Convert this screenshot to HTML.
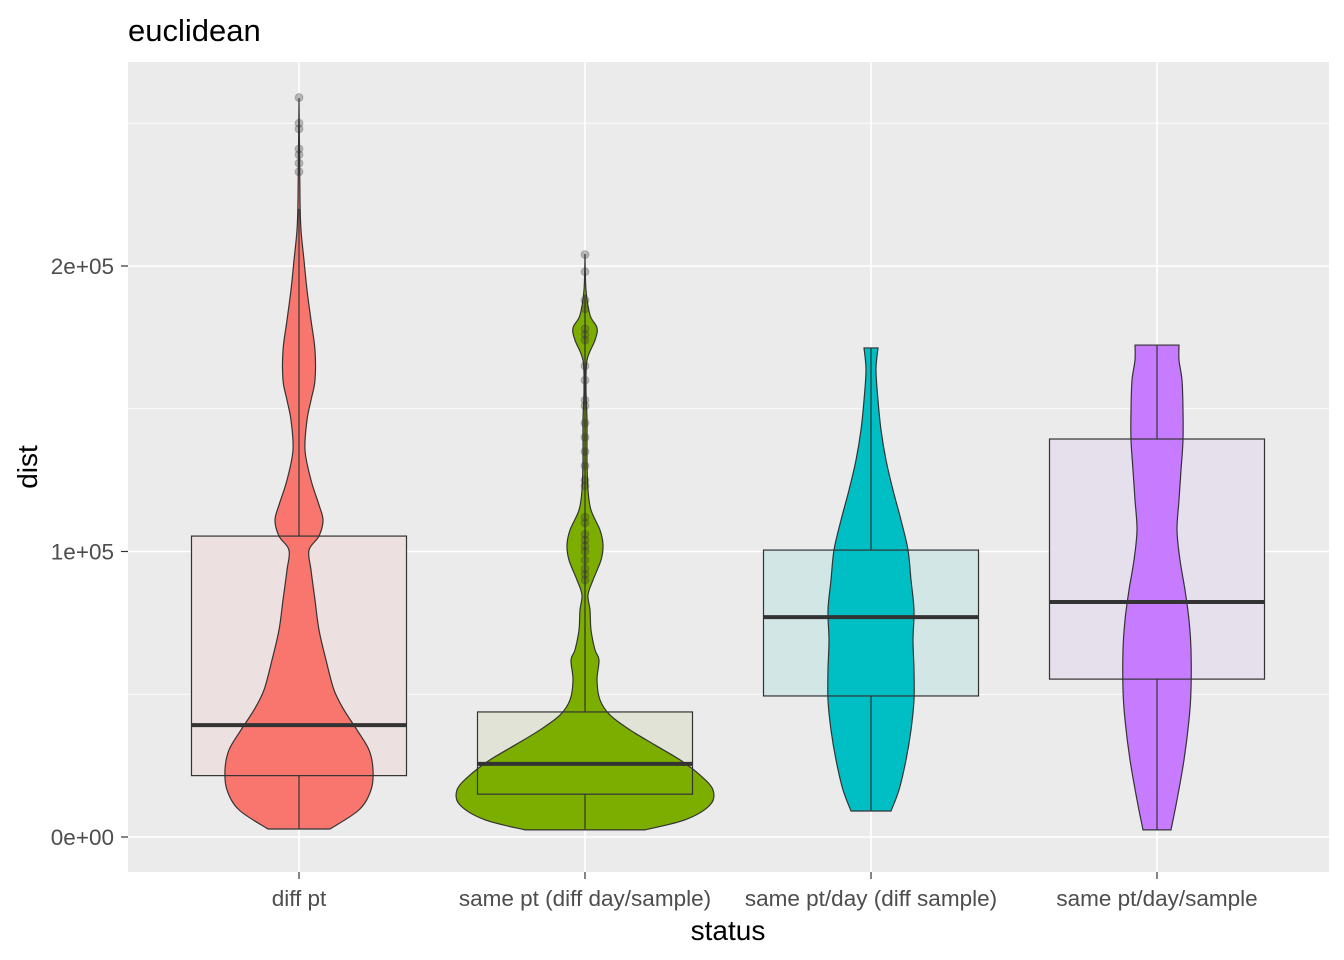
<!DOCTYPE html>
<html><head><meta charset="utf-8"><style>
body{margin:0;background:#fff;}
svg{display:block;font-family:"Liberation Sans",Arial,sans-serif;}
</style></head><body>
<svg id="chart" width="1344" height="960">
<rect width="1344" height="960" fill="#fff"/>
<text x="128" y="41" font-size="31" fill="#000">euclidean</text>
<rect x="128" y="62" width="1201" height="810" fill="#EBEBEB"/>
<g id="grid"></g><g id="marks"></g><g id="axes"></g>
<text x="728" y="940" font-size="28" text-anchor="middle" fill="#000">status</text>
<text transform="translate(37,467) rotate(-90)" font-size="28" text-anchor="middle" fill="#000">dist</text>
</svg>
<script>
const categories=["diff pt","same pt (diff day/sample)","same pt/day (diff sample)","same pt/day/sample"];
const fills=["#F8766D","#7CAE00","#00BFC4","#C77CFF"];
const boxFills=["#EDE0E0","#E1E3D6","#D3E6E6","#E6E0EC"];
const yTicks=[0,100000,200000];
const yTickLabels=["0e+00","1e+05","2e+05"];
const yMinor=[50000,150000,250000];
const lowerWhisker=[2800,2500,9100,2500];
const q1=[21500,15000,49400,55300];
const median=[39200,25600,77000,82300];
const q3=[105400,43800,100500,139400];
const upperWhisker=[220000,190000,171300,172300];
const violinVals=[
[2800,9500,16500,23500,30500,37500,44500,51500,62000,72500,83000,93500,100500,105400,111000,116300,125000,135500,146000,153000,160000,170500,181000,191600,202000,212600,223000,240600,258800],
[2500,6000,11200,16500,21700,27000,32200,37500,42700,48000,55000,62000,65500,72500,79500,84800,90000,97000,102300,107500,114500,121500,132000,146000,156600,167000,174000,178300,182800,191600,204200],
[9100,16500,27000,37500,48000,58500,69000,79500,90000,100500,111000,121500,132000,142600,153000,163600,171300],
[2500,13000,27000,41000,51500,65500,76000,86500,97000,107500,118000,128500,139000,149600,160000,167000,172300]];
const violinDensity=[
[31,60,72,74,70,58,45,35,27,20,16,12,10,20,24,20,12,6,8,12,16,16,12,8,5,2,1,0.5,0],
[60,100,125,128,115,95,70,45,25,15,12,14,10,6,5,3,8,16,18,15,6,3,2,2,1,2,10,12,5,1,0],
[20,28,35,40,43,43,42,43,40,37,30,22,15,10,7,5,7],
[14,20,27,32,34,34,32,28,23,20,22,24,26,26,25,22,22]];
const outliers=[
[259000,250000,248000,241000,239000,236000,233000],
[204000,198000,188000,185000,178000,176000,174000,165000,160000,153000,151000,145000,140000,135000,130000,125000,123000,112000,110000,106000,104000,102000,100000,97000,94000,92000,90000],
[],[]];
const NS="http://www.w3.org/2000/svg";
const y=v=>837-v*285.5/100000;
const x=i=>299+i*286;
function mk(tag,attrs,parent){const e=document.createElementNS(NS,tag);for(const k in attrs)e.setAttribute(k,attrs[k]);parent.appendChild(e);return e;}
function smooth(pts){let d=`M${pts[0][0]},${pts[0][1]}`;
for(let i=0;i<pts.length-1;i++){const p0=pts[Math.max(i-1,0)],p1=pts[i],p2=pts[i+1],p3=pts[Math.min(i+2,pts.length-1)];
d+=`C${p1[0]+(p2[0]-p0[0])/6},${p1[1]+(p2[1]-p0[1])/6} ${p2[0]-(p3[0]-p1[0])/6},${p2[1]-(p3[1]-p1[1])/6} ${p2[0]},${p2[1]}`;}
return d;}
const grid=document.getElementById('grid'),marks=document.getElementById('marks'),axes=document.getElementById('axes');
yMinor.forEach(v=>{const l=mk('line',{x1:128,x2:1329,y1:y(v),y2:y(v),stroke:'#fff','stroke-width':0.8},grid);

});
yTicks.forEach((v,i)=>{const l=mk('line',{x1:128,x2:1329,y1:y(v),y2:y(v),stroke:'#fff','stroke-width':1.6},grid);


const t=mk('line',{x1:121,x2:128,y1:y(v),y2:y(v),stroke:'#333','stroke-width':1.2},axes);


const tx=mk('text',{x:114,y:y(v)+8,'font-size':22.5,'text-anchor':'end',fill:'#4D4D4D'},axes);tx.textContent=yTickLabels[i];

});
categories.forEach((c,i)=>{const cx=x(i);
const g=mk('line',{x1:cx,x2:cx,y1:62,y2:872,stroke:'#fff','stroke-width':1.6},grid);


const t=mk('line',{x1:cx,x2:cx,y1:872,y2:879,stroke:'#333','stroke-width':1.2},axes);


const tx=mk('text',{x:cx,y:906,'font-size':22.5,'text-anchor':'middle',fill:'#4D4D4D'},axes);tx.textContent=c;


const bw=107.5;
const bf=mk('rect',{x:cx-bw,y:y(q3[i]),width:2*bw,height:y(q1[i])-y(q3[i]),fill:boxFills[i]},marks);


const vv=violinVals[i],dd=violinDensity[i];
const right=vv.map((v,k)=>[cx+dd[k],y(v)]);
const left=vv.map((v,k)=>[cx-dd[k],y(v)]).reverse();
const rd=smooth(right),ld=smooth(left).replace(/^M/,'L');
const vp=mk('path',{d:rd+ld+'Z',fill:fills[i],stroke:'#333','stroke-width':1.2},marks);


const wk=mk('path',{d:`M${cx},${y(q3[i])}V${y(upperWhisker[i])}M${cx},${y(q1[i])}V${y(lowerWhisker[i])}`,stroke:'#333','stroke-width':1.2,fill:'none'},marks);


const bo=mk('rect',{x:cx-bw,y:y(q3[i]),width:2*bw,height:y(q1[i])-y(q3[i]),fill:'none',stroke:'#333','stroke-width':1.2},marks);


const md=mk('line',{x1:cx-bw,x2:cx+bw,y1:y(median[i]),y2:y(median[i]),stroke:'#333','stroke-width':4},marks);


outliers[i].forEach(v=>{const p=mk('circle',{cx:cx,cy:y(v),r:4,fill:'rgba(50,50,50,0.3)',stroke:'rgba(60,60,60,0.25)'},marks);

});
});
</script>
</body></html>
